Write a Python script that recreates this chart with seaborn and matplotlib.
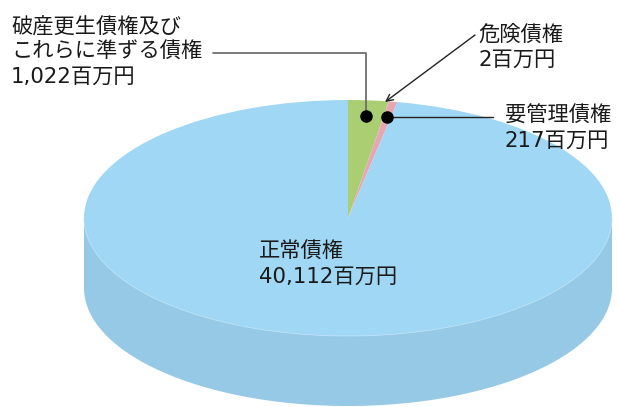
import numpy as np
import matplotlib
matplotlib.use("Agg")
import matplotlib.pyplot as plt
import seaborn as sns

# ---- data ----
categories = ["破産更生債権及び\nこれらに準ずる債権", "危険債権", "要管理債権", "正常債権"]
values = [1022, 2, 217, 40112]
value_labels = ["1,022百万円", "2百万円", "217百万円", "40,112百万円"]
colors = ["#A9CF72", "#E8A6B2", "#E6A7B3", "#A0D7F4"]
side_color = "#95C9E5"

sns.set_theme(style="white")
plt.rcParams["font.family"] = ["DejaVu Sans", "Noto Sans CJK JP"]

W, H = 618, 407
fig = plt.figure(figsize=(W / 100, H / 100), dpi=100)
ax = fig.add_axes([0, 0, 1, 1])

# ellipse geometry in pixels
cx, cy, a, b, depth = 348, 218, 264, 118, 70

def px(x, y):
    return ((x - cx) / a, (cy - y) / b)

# side of the cylinder (front half)
t = np.linspace(np.pi, 2 * np.pi, 300)
d = depth / b
xs = np.concatenate([np.cos(t), np.cos(t[::-1])])
ys = np.concatenate([np.sin(t), np.sin(t[::-1]) - d])
ax.fill(xs, ys, color=side_color, lw=0, zorder=1)

# top face
wedges, _ = ax.pie(values, colors=colors, startangle=90, counterclock=False,
                   wedgeprops=dict(linewidth=0), radius=1.0)
for w in wedges:
    w.set_zorder(2)
# faint front edge highlight
ax.plot(np.cos(t), np.sin(t), color="#B8E0F5", lw=0.6, zorder=3)

ax.set_aspect("auto")
ax.set_xlim(-cx / a, (W - cx) / a)
ax.set_ylim(-(H - cy) / b, cy / b)
ax.axis("off")

# mid angles of wedges
fr = np.array(values) / np.sum(values)
cum = np.concatenate([[0], np.cumsum(fr)])
mid = np.deg2rad(90 - 360 * (cum[:-1] + cum[1:]) / 2)
r = 0.87
dots = [(r * np.cos(m), r * np.sin(m)) for m in mid]

fs = 15.3
tc = "#1a1a1a"
ls = 1.3

# 破産更生債権 label
ax.text(*px(11, 52), categories[0] + "\n" + value_labels[0], fontsize=fs, color=tc,
        ha="left", va="center", linespacing=ls, zorder=5)
gx, gy = dots[0]
lx, ly = px(213, 53)
ax.plot([lx, gx, gx], [ly, ly, gy], color="#6e6e6e", lw=1.3, zorder=4)
ax.plot(gx, gy, "o", color="black", ms=8, zorder=5)

# 危険債権 label with arrow
tip = px(385, 102)
ax.annotate("", xy=tip, xytext=px(475, 35),
            arrowprops=dict(arrowstyle="->", color="#222222", lw=1.0,
                            shrinkA=0, shrinkB=0), zorder=5)
ax.text(*px(478, 47), categories[1] + "\n" + value_labels[1], fontsize=fs, color=tc,
        ha="left", va="center", linespacing=ls, zorder=5)

# 要管理債権 label
px2, py2 = dots[2]
ax.plot([px2, px(493, 0)[0]], [py2, py2], color="#222222", lw=1.0, zorder=4)
ax.plot(px2, py2, "o", color="black", ms=8, zorder=5)
ax.text(*px(505, 128), categories[2] + "\n" + value_labels[2], fontsize=fs, color=tc,
        ha="left", va="center", linespacing=ls, zorder=5)

# 正常債権 label
ax.text(*px(259, 264), categories[3] + "\n" + value_labels[3], fontsize=fs, color=tc,
        ha="left", va="center", linespacing=ls, zorder=5)

fig.savefig("out.png", dpi=100)
